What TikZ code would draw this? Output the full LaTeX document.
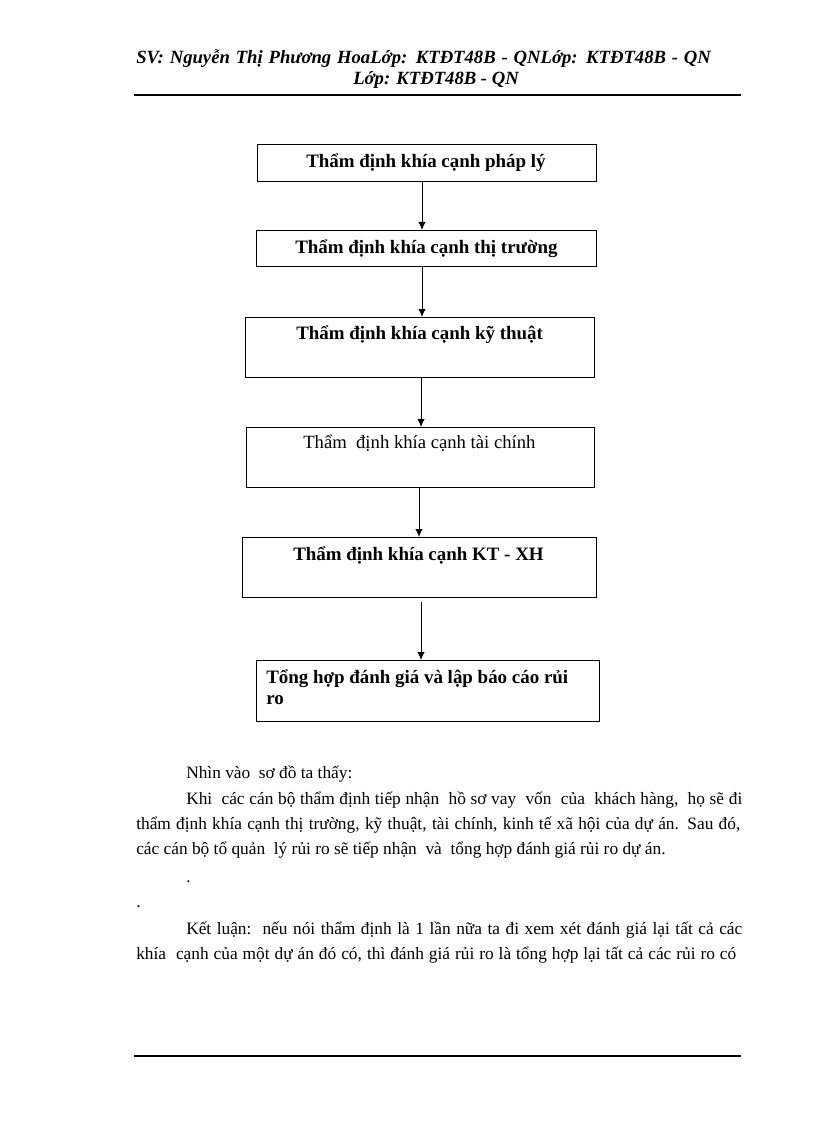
\documentclass[tikz,border=0pt]{standalone}
\usepackage{fontspec}
\setmainfont{Liberation Serif}
\usetikzlibrary{arrows.meta,calc}
\begin{document}
\begin{tikzpicture}[x=0.75pt,y=-0.75pt,
  box/.style={draw, line width=0.8pt, inner sep=0pt, anchor=north west},
  btxt/.style={anchor=base west, inner sep=0pt, font=\fontsize{14.2}{16}\selectfont\bfseries},
  rtxt/.style={anchor=base west, inner sep=0pt, font=\fontsize{14}{16}\selectfont},
  body/.style={anchor=base west, inner sep=0pt, font=\fontsize{13}{15}\selectfont},
  head/.style={anchor=base west, inner sep=0pt, font=\fontsize{14}{16}\selectfont\bfseries\itshape},
  arr/.style={line width=0.75pt, -{Latex[length=6pt,width=5.5pt]}},
  rulez/.style={line width=1.5pt}]
\useasboundingbox (0,0) rectangle (816,1123);

% header
\node[head] (h1) at (136,64) {\makebox[431pt][s]{SV: Nguyễn Thị Phương HoaLớp: KTĐT48B - QNLớp: KTĐT48B - QN}};
\node[head] (h2) at (353,85) {Lớp: KTĐT48B - QN};
\coordinate (r1a) at (134,95);
\coordinate (r1b) at (741,95);
\draw[rulez] (r1a) -- (r1b);

% boxes
\node[box, minimum width=339*0.75pt, minimum height=37*0.75pt] (b1) at (257,144) {};
\node[box, minimum width=340*0.75pt, minimum height=36*0.75pt] (b2) at (256,230) {};
\node[box, minimum width=349*0.75pt, minimum height=60*0.75pt] (b3) at (245,317) {};
\node[box, minimum width=348*0.75pt, minimum height=60*0.75pt] (b4) at (246,427) {};
\node[box, minimum width=354*0.75pt, minimum height=60*0.75pt] (b5) at (242,537) {};
\node[box, minimum width=343*0.75pt, minimum height=61*0.75pt] (b6) at (256,660) {};

\node[btxt] (t1) at (306,168) {Thẩm định khía cạnh pháp lý};
\node[btxt] (t2) at (295,253) {Thẩm định khía cạnh thị trường};
\node[btxt] (t3) at (296,339) {Thẩm định khía cạnh kỹ thuật};
\node[rtxt] (t4) at (303,448) {Thẩm\ \ định khía cạnh tài chính};
\node[btxt] (t5) at (293,560) {Thẩm định khía cạnh KT - XH};
\node[btxt] (t6) at (266,683) {Tổng hợp đánh giá và lập báo cáo rủi};
\node[btxt] (t6b) at (266,704) {ro};

% arrow columns
\coordinate (c1) at (422,0);
\coordinate (c2) at (422,0);
\coordinate (c3) at (421,0);
\coordinate (c4) at (419,0);
\coordinate (c5) at (421,0);
\draw[arr] (b1.south -| c1) -- (b2.north -| c1);
\draw[arr] (b2.south -| c2) -- (b3.north -| c2);
\draw[arr] (b3.south -| c3) -- (b4.north -| c3);
\draw[arr] (b4.south -| c4) -- (b5.north -| c4);
\draw[arr] ($(b5.south -| c5)+(0,4)$) -- (b6.north -| c5);

% body text
\node[body] (p0) at (186,778) {Nhìn vào\ \ sơ đồ ta thấy:};
\node[body] (p1) at (186,804) {\makebox[417pt][s]{Khi\ \ các cán bộ thẩm định tiếp nhận\ \ hồ sơ vay\ \ vốn\ \ của\ \ khách hàng,\ \ họ sẽ đi}};
\node[body] (p2) at (136,829) {\makebox[453pt][s]{thẩm định khía cạnh thị trường, kỹ thuật, tài chính, kinh tế xã hội của dự án. Sau đó,}};
\node[body] (p3) at (136,854) {các cán bộ tổ quản\ \ lý rủi ro sẽ tiếp nhận\ \ và\ \ tổng hợp đánh giá rủi ro dự án.};
\node[body] (d1) at (186,882) {.};
\node[body] (d2) at (136,907) {.};
\node[body] (k1) at (186,934) {\makebox[417pt][s]{Kết luận:\ \ nếu nói thẩm định là 1 lần nữa ta đi xem xét đánh giá lại tất cả các}};
\node[body] (k2) at (136,959) {\makebox[450pt][s]{khía\ \ cạnh của một dự án đó có, thì đánh giá rủi ro là tổng hợp lại tất cả các rủi ro có}};

% footer rule
\coordinate (r2a) at (134,1056);
\coordinate (r2b) at (741,1056);
\draw[rulez] (r2a) -- (r2b);
\end{tikzpicture}
\end{document}
